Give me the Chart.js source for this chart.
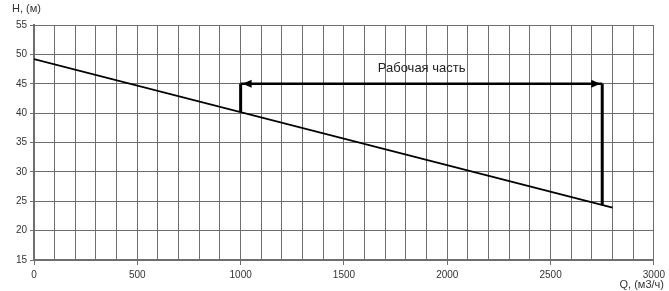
<!DOCTYPE html>
<html>
<head>
<meta charset="utf-8">
<script src="https://cdn.jsdelivr.net/npm/chart.js@4"></script>
<style>
  html, body { margin: 0; padding: 0; background: #fff; }
</style>
</head>
<body>
<canvas id="c" width="669" height="291"></canvas>
<script>
// pump curve H(Q)
var qCurve = [0, 2800];
var hCurve = [49.2, 23.9];

// working zone
var qWork = [1000, 2750];
var hWorkLow = [40.2, 24.35];
var hArrow = 45;
var workLabel = "Рабочая часть";
var workLabelAt = [1876, 47.6];

var xTitle = "Q, (м3/ч)";
var yTitle = "H, (м)";

function pts(xs, ys) {
    var out = [];
    for (var i = 0; i < xs.length; i++) out.push({x: xs[i], y: ys[i]});
    return out;
}

var FONT = "'Liberation Sans', Arial, sans-serif";

var extras = {
    id: 'extras',
    afterDatasetsDraw: function(chart) {
        var ctx = chart.ctx;
        var xs = chart.scales.x, ys = chart.scales.y;
        var yA = ys.getPixelForValue(hArrow);
        var xa = xs.getPixelForValue(qWork[0]) + 2;
        var xb = xs.getPixelForValue(qWork[1]) - 2;

        ctx.save();
        ctx.fillStyle = '#000';
        // left arrowhead
        ctx.beginPath();
        ctx.moveTo(xa, yA);
        ctx.lineTo(xa + 9, yA - 4);
        ctx.lineTo(xa + 9, yA + 4);
        ctx.closePath();
        ctx.fill();
        // right arrowhead
        ctx.beginPath();
        ctx.moveTo(xb, yA);
        ctx.lineTo(xb - 9, yA - 4);
        ctx.lineTo(xb - 9, yA + 4);
        ctx.closePath();
        ctx.fill();

        ctx.fillStyle = '#222';
        ctx.font = '13px ' + FONT;
        ctx.textAlign = 'center';
        ctx.textBaseline = 'middle';
        ctx.fillText(workLabel, xs.getPixelForValue(workLabelAt[0]), ys.getPixelForValue(workLabelAt[1]));

        ctx.fillStyle = '#333';
        ctx.font = '11px ' + FONT;
        ctx.textAlign = 'left';
        ctx.fillText(yTitle, 12, 9);
        ctx.textAlign = 'right';
        ctx.fillText(xTitle, 664, 285);
        ctx.restore();
    }
};

var myChart = new Chart(document.getElementById('c'), {
    type: 'scatter',
    data: {
        datasets: [
            {
                data: pts(qCurve, hCurve),
                showLine: true,
                borderColor: '#000',
                borderWidth: 1.8,
                pointRadius: 0
            },
            {
                data: pts([qWork[0], qWork[0]], [hWorkLow[0], hArrow]),
                showLine: true,
                borderColor: '#000',
                borderWidth: 3,
                pointRadius: 0
            },
            {
                data: pts([qWork[1], qWork[1]], [hWorkLow[1], hArrow]),
                showLine: true,
                borderColor: '#000',
                borderWidth: 3,
                pointRadius: 0
            },
            {
                data: pts(qWork, [hArrow, hArrow]),
                showLine: true,
                borderColor: '#000',
                borderWidth: 2.5,
                pointRadius: 0
            }
        ]
    },
    options: {
        responsive: false,
        devicePixelRatio: 1,
        animation: false,
        layout: { padding: { top: 25, right: 15, left: 0, bottom: 0 } },
        plugins: {
            legend: { display: false },
            tooltip: { enabled: false }
        },
        scales: {
            x: {
                type: 'linear',
                min: 0,
                max: 3000,
                afterFit: function(s) { s.height = 31; },
                grid: {
                    color: '#6e6e6e',
                    tickLength: 5,
                    tickColor: function(c) {
                        return c.tick && c.tick.value % 500 === 0 ? '#6e6e6e' : 'rgba(0,0,0,0)';
                    }
                },
                border: { color: '#6e6e6e', width: 1.5 },
                ticks: {
                    stepSize: 100,
                    autoSkip: false,
                    maxRotation: 0,
                    padding: 4,
                    color: '#333',
                    font: { family: FONT, size: 10 },
                    callback: function(v) { return v % 500 === 0 ? v : ''; }
                }
            },
            y: {
                min: 15,
                max: 55,
                afterFit: function(s) { s.width = 34; },
                grid: { color: '#6e6e6e', tickLength: 4 },
                border: { color: '#6e6e6e', width: 2 },
                ticks: {
                    stepSize: 5,
                    padding: 3,
                    color: '#333',
                    font: { family: FONT, size: 10 }
                }
            }
        }
    },
    plugins: [extras]
});
</script>
</body>
</html>
